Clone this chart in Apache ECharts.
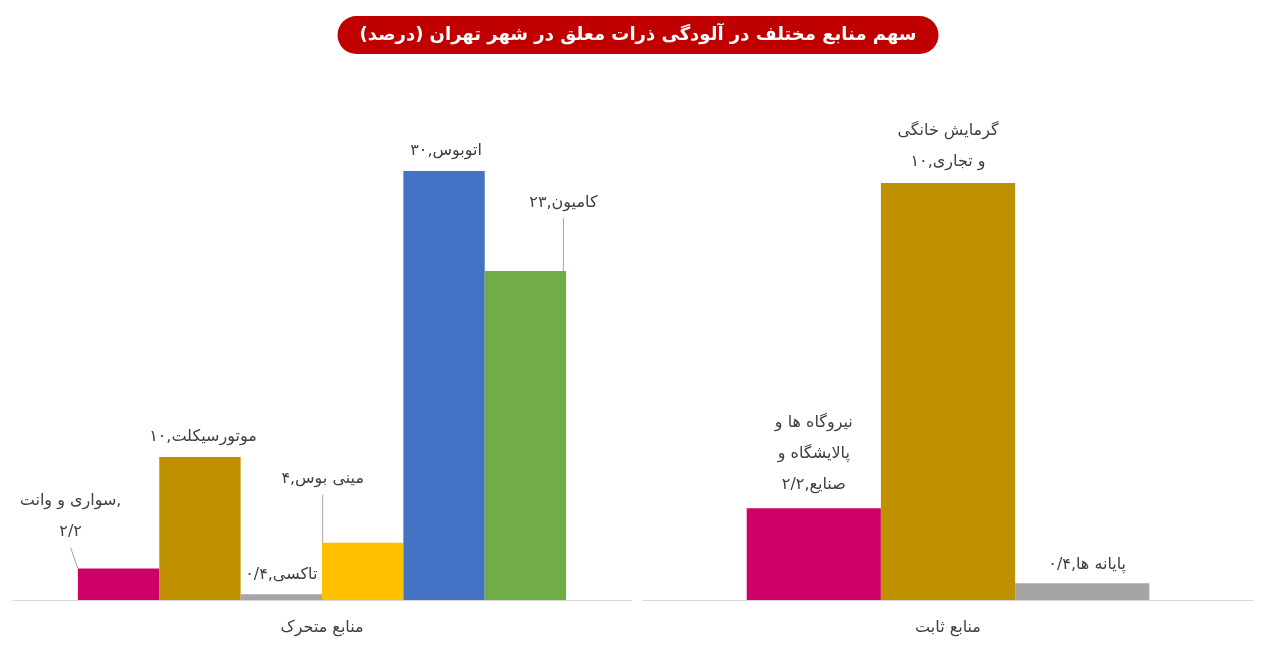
<!DOCTYPE html>
<html><head><meta charset="utf-8">
<script src="https://cdn.jsdelivr.net/npm/echarts@6/dist/echarts.min.js"></script>
<style>html,body{margin:0;background:#fff}#c{width:1276px;height:663px}</style>
</head><body><div id="c"></div>
<script>
const titleText = 'سهم منابع مختلف در آلودگی ذرات معلق در شهر تهران (درصد)';
const groupMobile = ['منابع متحرک'];
const groupFixed = ['منابع ثابت'];
const mobileNames = ['سواری و وانت,', 'موتورسیکلت,', 'تاکسی,', 'مینی بوس,', 'اتوبوس,', 'کامیون,'];
const mobileValues = [2.2, 10, 0.4, 4, 30, 23];
const mobileColors = ['#cc0066', '#bf9000', '#a5a5a5', '#ffc000', '#4472c4', '#70ad47'];
const fixedNames = ['نیروگاه ها و\nپالایشگاه و\nصنایع,', 'گرمایش خانگی\nو تجاری,', 'پایانه ها,'];
const fixedValues = [2.2, 10, 0.4];
const fixedColors = ['#cc0066', '#bf9000', '#a5a5a5'];

const fa = v => String(v).replace('.', '/').replace(/\d/g, d => '۰۱۲۳۴۵۶۷۸۹'[d]);
const mobileLayout = [
  {dx:-48, dy:-15, line:true, sep:'\n'}, {dx:3, dy:1}, {dx:0, dy:2},
  {dx:-40, dy:-42, line:true}, {dx:2, dy:1}, {dx:38, dy:-47, line:true}];
const fixedLayout = [{dx:0, dy:-2}, {dx:0, dy:0}, {dx:5, dy:3}];
const font = 'DejaVu Sans';

function mk(names, vals, cols, lay, idx) {
  return names.map((n, i) => ({
    type:'bar', xAxisIndex:idx, yAxisIndex:idx, barGap:'0%',
    barCategoryGap: idx === 0 ? '21%' : '34%',
    data:[vals[i]], itemStyle:{color:cols[i]},
    label:{show:true, position:'top', distance:6, color:'#404040', fontSize:16, fontFamily:font, align:'center', lineHeight:31,
      formatter: () => n + (lay[i].sep || '') + fa(vals[i])},
    labelLayout:{dx:lay[i].dx, dy:lay[i].dy},
    labelLine:{show:!!lay[i].line, lineStyle:{color:'#a6a6a6', width:1}}
  }));
}

const chart = echarts.init(document.getElementById('c'));
chart.setOption({
  animation:false,
  title:{text:titleText, left:'center', top:16, backgroundColor:'#c00000', borderRadius:22,
    padding:[10, 22], textStyle:{color:'#fff', fontSize:18, fontWeight:'bold', fontFamily:font}},
  grid:[{left:13, width:618, top:171, bottom:63}, {left:643, width:610, top:183, bottom:63}],
  xAxis:[0,1].map(i => ({type:'category', gridIndex:i, data: i ? groupFixed : groupMobile,
    axisLine:{lineStyle:{color:'#d9d9d9'}}, axisTick:{show:false},
    axisLabel:{color:'#404040', fontSize:16, fontFamily:font, margin:20}})),
  yAxis:[0,1].map(i => ({type:'value', gridIndex:i, min:0, max: i ? 10 : 30, show:false, splitLine:{show:false}})),
  series:[...mk(mobileNames, mobileValues, mobileColors, mobileLayout, 0),
          ...mk(fixedNames, fixedValues, fixedColors, fixedLayout, 1)]
});
</script></body></html>
